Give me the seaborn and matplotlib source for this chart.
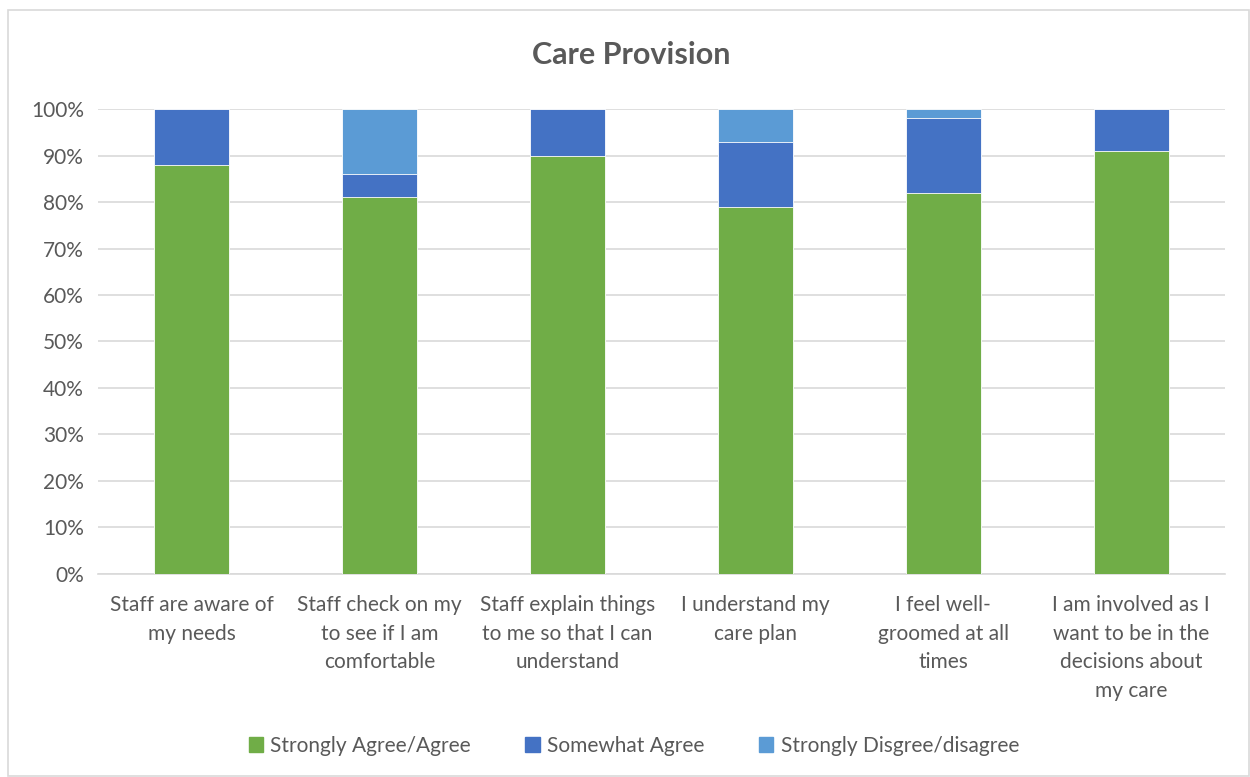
import matplotlib
matplotlib.use("Agg")
import matplotlib.pyplot as plt
import seaborn as sns
import pandas as pd
import numpy as np
from matplotlib.patches import Rectangle

categories = [
    "Staff are aware of\nmy needs",
    "Staff check on my\nto see if I am\ncomfortable",
    "Staff explain things\nto me so that I can\nunderstand",
    "I understand my\ncare plan",
    "I feel well-\ngroomed at all\ntimes",
    "I am involved as I\nwant to be in the\ndecisions about\nmy care",
]
series_names = ["Strongly Agree/Agree", "Somewhat Agree", "Strongly Disgree/disagree"]
agree = [88, 81, 90, 79, 82, 91]
somewhat = [12, 5, 10, 14, 16, 9]
disagree = [0, 14, 0, 7, 2, 0]
colors = ["#70AD47", "#4472C4", "#5B9BD5"]

sns.set_theme(style="white")
plt.rcParams["font.family"] = ["Lato", "DejaVu Sans"]
text_color = "#595959"
fs = 15

fig = plt.figure(figsize=(12.5, 7.77), dpi=100)
ax = fig.add_axes([0.0784, 0.2613, 0.9016, 0.5984])

df = pd.DataFrame({"cat": categories, "a": agree, "s": somewhat, "d": disagree})
bottoms = np.zeros(len(categories))
for col, name, c in zip(["a", "s", "d"], series_names, colors):
    vals = df[col].to_numpy(dtype=float)
    sns.barplot(x=df["cat"], y=vals + bottoms, color=c, ax=ax, width=0.4,
                label=name, saturation=1, edgecolor="white", linewidth=0.6)
    bottoms = bottoms + vals

for i, cont in enumerate(ax.containers):
    for p in cont:
        p.set_zorder(3 - i)

ax.set_ylim(0, 100)
ax.set_xlim(-0.5, len(categories) - 0.5)
ax.set_yticks(np.arange(0, 101, 10))
ax.set_yticklabels([f"{v}%" for v in range(0, 101, 10)], fontsize=fs, color=text_color)
ax.set_xticks(range(len(categories)))
ax.set_xticklabels(categories, fontsize=fs, color=text_color, linespacing=1.55)
ax.tick_params(axis="y", length=0, pad=10)
ax.tick_params(axis="x", length=0, pad=15)
ax.set_xlabel("")
ax.set_ylabel("")
ax.grid(axis="y", color="#D9D9D9", linewidth=1.2, zorder=0)
ax.set_axisbelow(True)
for s in ["top", "right", "left"]:
    ax.spines[s].set_visible(False)
ax.spines["bottom"].set_color("#D9D9D9")
ax.spines["bottom"].set_linewidth(1.2)

handles = [Rectangle((0, 0), 1, 1, color=c) for c in colors]
fig.legend(handles, series_names, loc="center", bbox_to_anchor=(0.507, 0.04), ncol=3,
           frameon=False, fontsize=fs, labelcolor=text_color, handlelength=0.7,
           handleheight=0.7, handletextpad=0.35, columnspacing=2.6)
if ax.get_legend():
    ax.get_legend().remove()

fig.text(0.505, 0.929, "Care Provision", ha="center", va="center", fontsize=22,
         fontweight="bold", color=text_color)

fig.patches.append(Rectangle((8 / 1250, 0.001), 1 - 9 / 1250, 1 - 10 / 777 - 0.001,
                             transform=fig.transFigure, fill=False,
                             edgecolor="#D9D9D9", linewidth=1.2))

fig.savefig("out.png", dpi=100, facecolor="white")
